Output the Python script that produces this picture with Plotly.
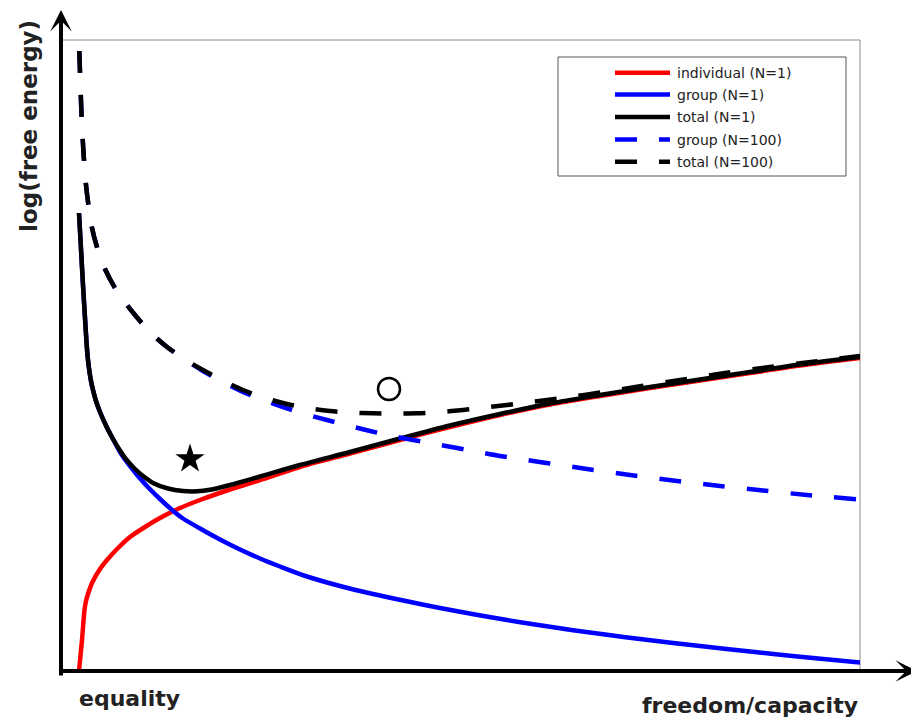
import plotly.graph_objects as go

# ---------------- data (arbitrary units) ----------------
# x: freedom/capacity, y: log(free energy)
x_individual = [17, 20, 22.5, 24, 26, 30, 38, 45, 56, 68, 83, 98, 118, 138, 168, 198, 238, 288, 338,
                388, 438, 488, 538, 588, 638, 688, 738, 798]
y_individual = [-1, 30, 60, 69, 76, 87, 101, 110, 122, 133, 143, 152, 162, 170, 180.5, 190, 203, 216.5,
                230, 243, 255, 265.5, 274, 282, 289.5, 297, 304.5, 312]

x_group1 = [17, 19, 21, 23, 24.7, 26, 27.5, 29, 31, 34, 38, 44.7, 51, 58, 68, 83, 98, 113, 121, 138,
            158, 178, 198, 218, 245, 278, 311, 345, 378, 413, 445, 478, 511, 545, 578, 638, 688, 738, 798]
y_group1 = [457, 421, 385, 352, 325, 310, 298, 289, 280, 269, 258, 243, 231, 218, 204, 186, 171, 157.5,
            151.5, 141.5, 130.5, 120.5, 111.5, 103.5, 93.5, 84, 76, 68.7, 62, 55.5, 50, 44.7, 39.8,
            35.2, 31, 24, 18.5, 13.3, 7.5]

x_total1 = [17, 19, 21, 23, 24.7, 26, 27.5, 29, 31, 34, 38, 44.7, 51, 58, 64.7, 73, 83, 91, 106, 121,
            135, 148, 168, 198, 238, 288, 338, 388, 438, 488, 538, 588, 638, 688, 738, 798]
y_total1 = [457, 421, 385, 352, 325, 310, 298, 289, 280, 269, 258, 243, 231, 219.5, 210, 201, 192.5,
            187, 181.5, 179, 178.7, 180.2, 185, 193.5, 205, 218, 231.5, 244.5, 256, 266.5, 275, 283,
            290.5, 298, 305.5, 313]

x_group100 = [17.3, 18, 18.7, 19.6, 20.7, 22, 23.8, 26.3, 29.8, 35, 43, 53, 62, 73, 88, 105, 123,
              141, 161, 181, 201, 221, 243, 265, 288, 308, 330, 351, 373, 395, 416, 438, 458, 481,
              525, 568, 611, 658, 701, 745, 798]
y_group100 = [619, 598, 577, 554, 531, 510, 487, 466, 443, 423, 401, 382, 369, 355, 338, 323, 310.5,
              299, 288, 278, 270, 263, 256, 250, 244, 239, 234, 230, 226, 222, 218, 214, 211, 207.5,
              201, 195, 189.5, 184, 179.5, 175, 170.5]

x_total100 = [17.3, 18, 18.7, 19.6, 20.7, 22, 23.8, 26.3, 29.8, 35, 43, 53, 62, 73, 88, 105, 123,
              141, 161, 181, 203, 223, 248, 268, 288, 311, 333, 355, 378, 401, 423, 445, 465, 485,
              508, 538, 578, 618, 663, 708, 753, 798]
y_total100 = [619, 598, 577, 554, 531, 510, 487, 466, 443, 423, 401, 382, 369, 355, 338, 323, 310.5,
              300, 289.5, 280, 272, 266.5, 261.5, 259, 257.5, 256.7, 256.5, 256.7, 258, 260, 262.5,
              265, 267.5, 270, 273, 277.5, 283.7, 290, 297, 303, 308.5, 314]

series_names = ["individual (N=1)", "group (N=1)", "total (N=1)", "group (N=100)", "total (N=100)"]
series_colors = ["#ff0000", "#0000ff", "#000000", "#0000ff", "#000000"]
series_dashed = [False, False, False, True, True]

star_x, star_y = [128], [211]        # optimum for N=1
circle_x, circle_y = [327], [281]    # optimum for N=100

y_axis_label = "log(free energy)"
x_axis_label = "freedom/capacity"
x_origin_label = "equality"

X_RANGE = [0, 798]
Y_RANGE = [0, 630]

# ---------------- figure ----------------
DASH = "22px,22px"
LW = 4.5
series_x = [x_individual, x_group1, x_total1, x_group100, x_total100]
series_y = [y_individual, y_group1, y_total1, y_group100, y_total100]

fig = go.Figure()
for xs, ys, name, col, dashed in zip(series_x, series_y, series_names, series_colors, series_dashed):
    fig.add_trace(go.Scatter(
        x=xs, y=ys, name=name, mode="lines",
        line=dict(color=col, width=LW, dash=DASH if dashed else "solid",
                  shape="spline", smoothing=0.8),
        showlegend=False, hoverinfo="skip"))

fig.add_trace(go.Scatter(x=star_x, y=star_y, mode="markers", showlegend=False,
                         marker=dict(symbol="star", size=22, color="black", line=dict(width=0))))
fig.add_trace(go.Scatter(x=circle_x, y=circle_y, mode="markers", showlegend=False,
                         marker=dict(symbol="circle-open", size=22, color="black",
                                     line=dict(width=2.5, color="black"))))

# page body has an 8px margin; the plot area is placed at page pixels x 62..860, y 40..670
BODY = 8
W, H = 911, 712
ML, MR, MT, MB = 54, 59, 32, 50
PW, PH = W - ML - MR, H - MT - MB
PLOT_LEFT = BODY + ML
PLOT_BOTTOM = BODY + H - MB


def px2paper_x(px):
    return (px - PLOT_LEFT) / PW


def px2paper_y(py):
    return (PLOT_BOTTOM - py) / PH


shapes = []
annotations = []
# thin gray frame (top/right visible)
shapes.append(dict(type="rect", xref="paper", yref="paper", x0=0, y0=0, x1=1, y1=1,
                   line=dict(color="#8a8a8a", width=1), layer="below"))

# axis arrows
annotations.append(dict(xref="paper", yref="paper", x=px2paper_x(61), y=px2paper_y(10),
                        ax=0, ay=667, axref="pixel", ayref="pixel", text="", showarrow=True,
                        arrowhead=3, arrowsize=0.9, arrowwidth=4, arrowcolor="black",
                        standoff=0, startstandoff=0))
annotations.append(dict(xref="paper", yref="paper", x=px2paper_x(917), y=px2paper_y(671),
                        ax=-858, ay=0, axref="pixel", ayref="pixel", text="", showarrow=True,
                        arrowhead=3, arrowsize=0.9, arrowwidth=4, arrowcolor="black",
                        standoff=0, startstandoff=0))

# axis labels
label_font = dict(family="DejaVu Sans", size=22, color="#222222", weight="bold")
annotations.append(dict(xref="paper", yref="paper", x=px2paper_x(29), y=px2paper_y(126),
                        text=y_axis_label, textangle=-90, showarrow=False,
                        xanchor="center", yanchor="middle",
                        font=dict(family="DejaVu Sans", size=23, color="#222222", weight="bold")))
annotations.append(dict(xref="paper", yref="paper", x=px2paper_x(129), y=px2paper_y(698),
                        text=x_origin_label, showarrow=False,
                        xanchor="center", yanchor="middle", font=label_font))
annotations.append(dict(xref="paper", yref="paper", x=px2paper_x(860), y=px2paper_y(705),
                        text=x_axis_label, showarrow=False,
                        xanchor="right", yanchor="middle", font=label_font))

# custom legend
shapes.append(dict(type="rect", xref="paper", yref="paper",
                   x0=px2paper_x(558), x1=px2paper_x(846), y0=px2paper_y(176), y1=px2paper_y(57),
                   line=dict(color="#555555", width=1), fillcolor="white", layer="above"))
legend_rows_px = [72.7, 94.5, 117, 139.5, 161.7]
for name, col, dashed, ry in zip(series_names, series_colors, series_dashed, legend_rows_px):
    shapes.append(dict(type="line", xref="paper", yref="paper",
                       x0=px2paper_x(615), x1=px2paper_x(670), y0=px2paper_y(ry), y1=px2paper_y(ry),
                       line=dict(color=col, width=4.5, dash=DASH if dashed else "solid")))
    annotations.append(dict(xref="paper", yref="paper", x=px2paper_x(675), y=px2paper_y(ry),
                            text=name, showarrow=False, xanchor="left", yanchor="middle",
                            font=dict(family="DejaVu Sans", size=14, color="#222222")))

fig.update_layout(
    width=W, height=H,
    margin=dict(l=ML, r=MR, t=MT, b=MB, pad=0),
    paper_bgcolor="white", plot_bgcolor="white",
    xaxis=dict(range=X_RANGE, visible=False, fixedrange=True),
    yaxis=dict(range=Y_RANGE, visible=False, fixedrange=True),
    shapes=shapes, annotations=annotations,
    showlegend=False,
)

fig.write_html("out.html")
